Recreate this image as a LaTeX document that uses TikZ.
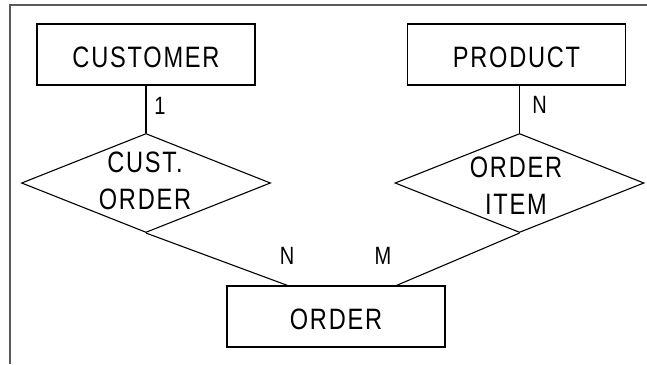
\documentclass[tikz,border=0pt]{standalone}
\usepackage{fontspec}
\setmainfont[FakeStretch=0.8,LetterSpace=6]{Liberation Sans}
\usetikzlibrary{shapes.geometric}
\begin{document}
\begin{tikzpicture}[x=1pt,y=-1pt,
  ent/.style={draw,line width=1.2pt,minimum width=218pt,minimum height=61pt,inner sep=0pt,text height=25pt,text depth=0pt,font=\fontsize{29.5}{37}\selectfont},
  rel/.style={draw,diamond,line width=1.1pt,minimum width=249pt,minimum height=99pt,inner sep=0pt},
  rtext/.style={align=center,inner sep=0pt,font=\fontsize{29.5}{37}\selectfont},
  card/.style={inner sep=0pt,font=\fontsize{25}{25}\selectfont},
  conn/.style={line width=1.1pt},
  frame/.style={line width=2pt,draw=black!65}]
\useasboundingbox (0,0) rectangle (647,364);
\coordinate (fb) at (10,364);
\coordinate (ftl) at (10,5);
\coordinate (fr) at (647,5);
\draw[frame] (fb) -- (ftl) -- (fr);
\node[ent] (cust) at (146,54.5) {CUSTOMER};
\node[ent] (prod) at (516.5,54.5) {PRODUCT};
\node[ent] (ord) at (336,316.5) {ORDER};
\node[rel] (co) at (146,183) {};
\node[rel] (oi) at (519.5,183) {};
\node[rtext] (cot) at (145,181) {CUST.\\ORDER};
\node[rtext] (oit) at (516,186) {ORDER\\ITEM};
\draw[conn] (cust.south) -- (co.north);
\draw[conn] (oi.north |- prod.south) -- (oi.north);
\draw[conn] (co.south) -- ([xshift=61pt]ord.north west);
\draw[conn] (oi.south) -- ([xshift=-49pt]ord.north east);
\node[card] (c1) at (160,106) {1};
\node[card] (c2) at (539.5,105) {N};
\node[card] (c3) at (287,256) {N};
\node[card] (c4) at (383,256) {M};
\end{tikzpicture}
\end{document}
